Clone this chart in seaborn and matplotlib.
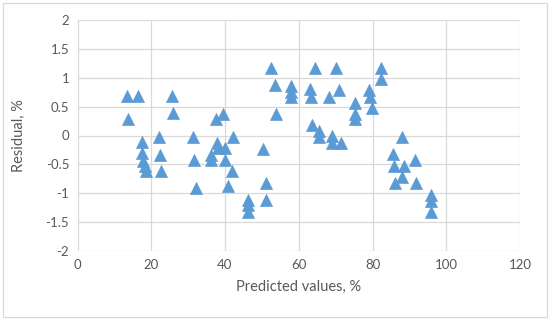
import matplotlib
matplotlib.use("Agg")
import matplotlib.pyplot as plt
import seaborn as sns
import pandas as pd
from matplotlib.patches import Rectangle

predicted = [13.3, 16.5, 13.8, 25.7, 26.0, 17.4, 17.6, 17.8, 18.3, 18.6,
             22.2, 22.4, 22.6, 31.4, 31.7, 32.1, 36.1, 36.3, 37.5, 37.7,
             38.2, 39.5, 40.0, 40.0, 40.9, 41.8, 42.2, 46.3, 46.3, 46.3,
             50.4, 51.1, 51.1, 52.4, 53.5, 53.7, 57.8, 58.0, 58.0, 63.0,
             63.3, 64.4, 63.5, 65.5, 65.5, 68.2, 68.9, 68.9, 70.2, 70.9,
             71.4, 75.2, 75.2, 75.2, 79.1, 79.3, 79.9, 82.4, 82.4, 87.9,
             85.6, 85.8, 88.5, 91.5, 88.1, 86.2, 91.9, 95.8, 95.8, 95.8]
residual = [0.68, 0.68, 0.28, 0.68, 0.39, -0.12, -0.31, -0.45, -0.53, -0.62,
            -0.02, -0.33, -0.62, -0.02, -0.42, -0.91, -0.33, -0.42, 0.28, -0.13,
            -0.22, 0.37, -0.21, -0.42, -0.88, -0.62, -0.02, -1.11, -1.21, -1.32,
            -0.23, -0.83, -1.12, 1.17, 0.88, 0.38, 0.86, 0.76, 0.67, 0.80,
            0.67, 1.17, 0.18, 0.08, -0.03, 0.67, -0.01, -0.13, 1.17, 0.78,
            -0.13, 0.57, 0.38, 0.28, 0.78, 0.66, 0.48, 1.17, 0.97, -0.03,
            -0.32, -0.53, -0.53, -0.43, -0.72, -0.82, -0.82, -1.03, -1.14, -1.32]

x_ticks = [0, 20, 40, 60, 80, 100, 120]
y_ticks = [-2, -1.5, -1, -0.5, 0, 0.5, 1, 1.5, 2]
y_tick_labels = ["-2", "-1.5", "-1", "-0.5", "0", "0.5", "1", "1.5", "2"]

df = pd.DataFrame({"Predicted": predicted, "Residual": residual})

sns.set_theme(style="whitegrid")
plt.rcParams["font.family"] = ["Lato", "DejaVu Sans"]

fig = plt.figure(figsize=(5.5, 3.2), dpi=100)
ax = fig.add_axes([77.5 / 550, 1 - 251 / 320, (520 - 77.5) / 550, (251 - 20) / 320])

sns.scatterplot(data=df, x="Predicted", y="Residual", ax=ax, marker="^",
                s=75, color="#5B9BD5", edgecolor="#5B9BD5", linewidth=0.5, zorder=3)

ax.set_xlim(0, 120)
ax.set_ylim(-2, 2)
ax.set_xticks(x_ticks)
ax.set_yticks(y_ticks)
ax.set_yticklabels(y_tick_labels)
ax.grid(True, color="#D9D9D9", linewidth=0.9)
for s in ax.spines.values():
    s.set_visible(False)
ax.tick_params(axis="both", length=0, labelsize=9.5, colors="#595959", pad=6)
ax.set_xlabel("Predicted values, %", fontsize=10.5, color="#595959", labelpad=6)
ax.set_ylabel("Residual, %", fontsize=10.5, color="#595959", labelpad=14)

fig.patches.append(Rectangle((3 / 550, 3 / 320), 544 / 550, 314 / 320,
                             transform=fig.transFigure, fill=False,
                             edgecolor="#D9D9D9", linewidth=0.9))

fig.savefig("out.png", dpi=100)
